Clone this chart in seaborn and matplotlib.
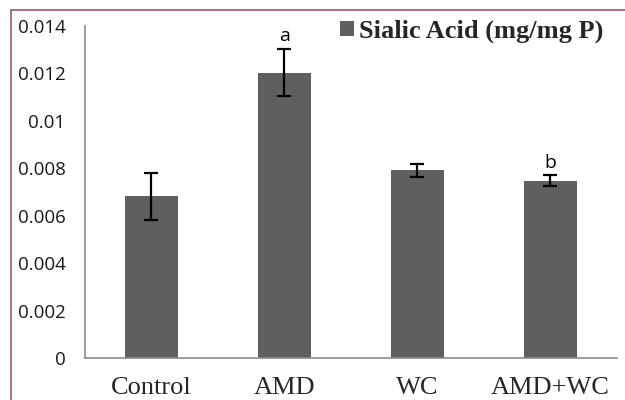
import matplotlib
matplotlib.use("Agg")
import matplotlib.pyplot as plt
import seaborn as sns
import pandas as pd
import numpy as np
from matplotlib.patches import Rectangle

groups = ["Control", "AMD", "WC", "AMD+WC"]
means = [0.00683, 0.01203, 0.00792, 0.00748]
errors = [0.00099, 0.00100, 0.00027, 0.00022]
letters = ["", "a", "", "b"]
legend_label = "Sialic Acid (mg/mg P)"
yticks = [0, 0.002, 0.004, 0.006, 0.008, 0.01, 0.012, 0.014]
ytick_labels = ["0", "0.002", "0.004", "0.006", "0.008", "0.01", "0.012", "0.014"]

sns.set_style("white")
df = pd.DataFrame({"group": groups, "value": means})

fig = plt.figure(figsize=(6.25, 4.0), dpi=100)
ax = fig.add_axes([0.136, 0.105, 0.851, 0.83])
bar_color = "#5f5f5f"
sns.barplot(data=df, x="group", y="value", color=bar_color, width=0.4,
            saturation=1, ax=ax, errorbar=None, edgecolor="none", label=legend_label)
ax.errorbar(np.arange(len(groups)), means, yerr=errors, fmt="none",
            ecolor="black", elinewidth=1.6, capsize=5, capthick=1.6)
for i, (m, e, t) in enumerate(zip(means, errors, letters)):
    if t:
        ax.text(i, m + e + 0.00015, t, ha="center", va="bottom",
                fontsize=14, family="Open Sans", color="black")

ax.set_xlim(-0.5, 3.5)
ax.set_ylim(0, 0.014)
ax.set_yticks(yticks)
ax.set_yticklabels(ytick_labels, family="Open Sans", fontsize=13.5, color="#1a1a1a")
ax.set_xticks(range(len(groups)))
ax.set_xticklabels(groups, family="Liberation Serif", fontsize=19)
ax.set_xticks(np.arange(-0.5, 4.0, 1.0), minor=True)
ax.tick_params(axis="x", which="major", length=0, pad=14)
ax.tick_params(axis="x", which="minor", length=6, color="#8c8c8c", width=1.2)
ax.tick_params(axis="y", length=5, color="#8c8c8c", width=1.2, pad=9)
ax.set_xlabel("")
ax.set_ylabel("")
for s in ["top", "right"]:
    ax.spines[s].set_visible(False)
for s in ["left", "bottom"]:
    ax.spines[s].set_color("#8c8c8c")
    ax.spines[s].set_linewidth(1.2)

leg = ax.legend(loc="upper right", bbox_to_anchor=(1.009, 1.075), frameon=False,
                prop={"family": "Liberation Serif", "weight": "bold", "size": 19},
                handlelength=0.5, handleheight=0.5, handletextpad=0.2,
                borderpad=0.2)

fig.patches.append(Rectangle((11 / 625, -0.1), 1.2, 1.1 - 10 / 400,
                             transform=fig.transFigure, fill=False,
                             edgecolor="#a0527a", linewidth=1.2))
fig.savefig("out.png", dpi=100)
